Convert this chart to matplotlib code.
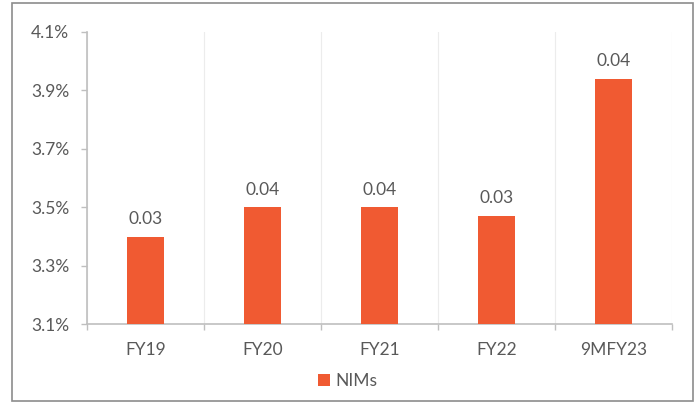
import matplotlib.pyplot as plt
from matplotlib.patches import Rectangle

# net interest margin by period, in percent
periods = ["FY19", "FY20", "FY21", "FY22", "9MFY23"]
nims = [3.40, 3.50, 3.50, 3.47, 3.94]
y_ticks = [3.1, 3.3, 3.5, 3.7, 3.9, 4.1]

bar_color = "#F05A32"
text_color = "#595959"
axis_color = "#BFBFBF"
font_size = 12.5

plt.rcParams["font.family"] = ["Lato", "DejaVu Sans"]

fig = plt.figure(figsize=(6.96, 4.03), dpi=100)
ax = fig.add_axes([0.125, 0.195, 0.8405, 0.7256])

x = list(range(len(periods)))
bars = ax.bar(x, nims, width=0.32, color=bar_color, label="NIMs", zorder=3)

# labels show the margin as a fraction
ax.bar_label(bars, labels=[f"{v / 100:.2f}" for v in nims],
             padding=7, fontsize=font_size, color=text_color)

ax.set_xlim(-0.5, len(periods) - 0.5)
ax.set_ylim(3.1, 4.1)
ax.set_yticks(y_ticks)
ax.set_yticklabels([f"{t:.1f}%" for t in y_ticks])
ax.set_xticks(x)
ax.set_xticklabels(periods)
ax.tick_params(axis="x", length=0, pad=13, labelsize=font_size, colors=text_color)
ax.tick_params(axis="y", length=4.3, width=1, color=axis_color,
               labelsize=font_size, labelcolor=text_color, pad=8.5)

# category boundaries: faint gridlines plus ticks on the x axis
bounds = [i - 0.5 for i in range(len(periods) + 1)]
ax.set_xticks(bounds, minor=True)
ax.tick_params(axis="x", which="minor", length=4.3, width=1, color=axis_color)
ax.grid(axis="x", which="minor", color="#ECECEC", linewidth=0.8, zorder=0)
ax.grid(axis="x", which="major", visible=False)

for side in ["top", "right"]:
    ax.spines[side].set_visible(False)
ax.spines["left"].set_color(axis_color)
ax.spines["bottom"].set_color(axis_color)
ax.spines["left"].set_linewidth(1.2)
ax.spines["bottom"].set_linewidth(1.2)

fig.legend(loc="center", bbox_to_anchor=(0.5, 0.055), frameon=False,
           fontsize=font_size, labelcolor=text_color, handlelength=0.7,
           handleheight=0.7, handletextpad=0.3)

# outer frame around the whole chart
fig.patches.append(Rectangle((0.0172, 0.005), 0.978, 0.9876,
                             transform=fig.transFigure, fill=False,
                             edgecolor="#8C8C8C", linewidth=1.2))

fig.savefig("out.png", dpi=100)
